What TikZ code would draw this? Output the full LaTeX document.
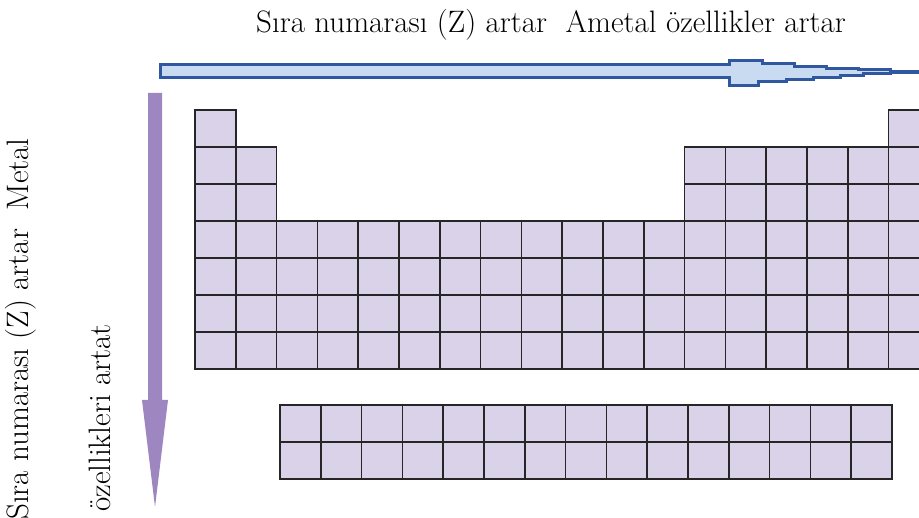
\documentclass[tikz,border=0pt]{standalone}
\definecolor{cellfill}{RGB}{217,210,233}
\definecolor{ametalblue}{RGB}{47,88,160}
\definecolor{ametalfill}{RGB}{200,219,240}
\definecolor{metalpurple}{RGB}{158,134,192}
\begin{document}
\begin{tikzpicture}[x=1pt,y=-1pt,line join=miter,
  cell/.style={fill=cellfill,draw=black!85,line width=1.6pt},
  lbl/.style={font=\fontsize{31}{36}\selectfont,inner sep=0pt}]
\useasboundingbox (0,0) rectangle (919,518);
\clip (0,0) rectangle (919,518);
\def\cw{40.8}
\def\ch{37}

% ---- texts ----
\node[lbl] (toptext) at (551,25) {S\i ra numaras\i{} (Z) artar\ \ Ametal \"ozellikler artar};
\node[lbl,rotate=90] (lefttext) at (21,329) {S\i ra numaras\i{} (Z) artar\ \ Metal};
\node[lbl,rotate=90] (lefttext2) at (100,418) {\"ozellikleri artat};

% ---- arrow to the right (ametal) ----
\draw[ametalblue,line width=4pt] (882,72.5) -- (919,72.5);
\draw[ametalblue,fill=ametalfill,line width=3pt]
  (160,64.7) -- (729,64.7) -- (729,60.8) -- (762,60.8) -- (762,63.8) -- (794,63.8)
  -- (794,66.2) -- (826,66.2) -- (826,68.2) -- (858,68.2) -- (858,70) -- (890,70)
  -- (890,74) -- (863,74) -- (863,75.8) -- (840,75.8) -- (840,77.8) -- (813,77.8)
  -- (813,79.5) -- (786,79.5) -- (786,81.8) -- (758,81.8) -- (758,85.2) -- (729,85.2)
  -- (729,77.5) -- (160,77.5) -- cycle;

% ---- arrow down (metal) ----
\fill[metalpurple] (148,93) -- (162,93) -- (162,400) -- (168,400)
  -- (155,507) -- (142,400) -- (148,400) -- cycle;

% ---- main table ----
\foreach \c in {1,18}
  \draw[cell] ({195+(\c-1)*\cw},110) rectangle ++(\cw,\ch);
\foreach \r in {2,3}
  \foreach \c in {1,2,13,14,15,16,17,18}
    \draw[cell] ({195+(\c-1)*\cw},{110+(\r-1)*\ch}) rectangle ++(\cw,\ch);
\foreach \r in {4,...,7}
  \foreach \c in {1,...,18}
    \draw[cell] ({195+(\c-1)*\cw},{110+(\r-1)*\ch}) rectangle ++(\cw,\ch);

% ---- lanthanides / actinides ----
\foreach \r in {0,1}
  \foreach \c in {0,...,14}
    \draw[cell] ({280+\c*\cw},{405+\r*\ch}) rectangle ++(\cw,\ch);
\end{tikzpicture}
\end{document}
